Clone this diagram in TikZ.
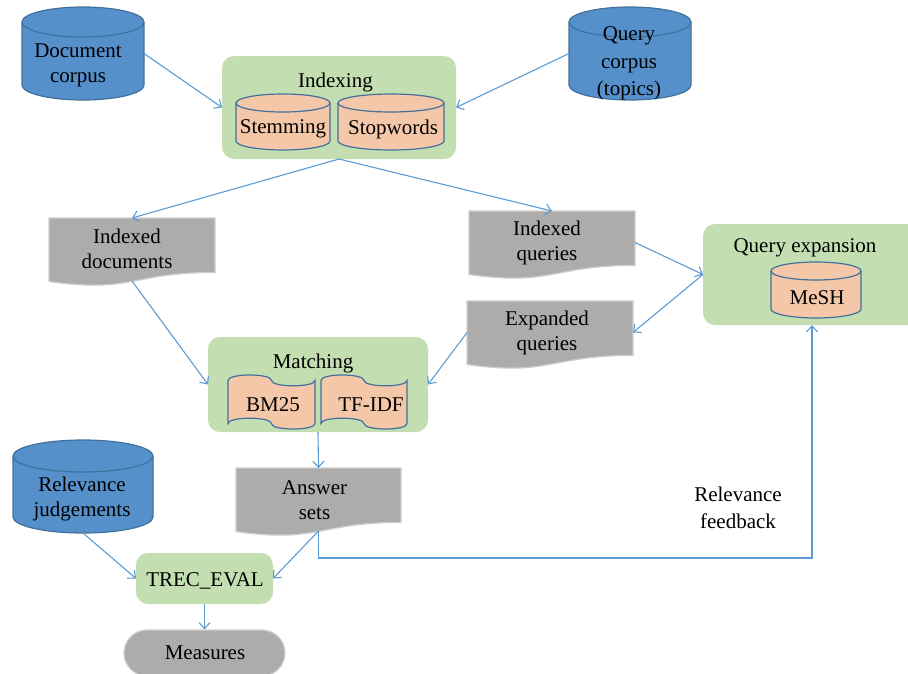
\documentclass[tikz,border=0pt]{standalone}
\usepackage{fontspec}
\setmainfont{Liberation Serif}
\usetikzlibrary{arrows.meta,calc}
\definecolor{cblue}{HTML}{5590CB}
\definecolor{cblueb}{HTML}{41719C}
\definecolor{cgreen}{HTML}{C3DEB1}
\definecolor{cpeach}{HTML}{F4C7A9}
\definecolor{cgray}{HTML}{AEABAB}
\definecolor{cgrayb}{HTML}{CFCDCD}
\definecolor{cline}{HTML}{5B9BD5}
\newcommand\mycyl[6]{%
\pgfmathsetmacro\cxc{(#1+#3)/2}%
\pgfmathsetmacro\ckx{0.5523*(#3-#1)/2}%
\pgfmathsetmacro\cky{0.5523*#5}%
\pgfmathsetmacro\cyt{#2+#5}%
\pgfmathsetmacro\cyb{#4-#5}%
\path[#6] (#1,\cyt) -- (#1,\cyb) .. controls (#1,\cyb+\cky) and (\cxc-\ckx,#4) .. (\cxc,#4) .. controls (\cxc+\ckx,#4) and (#3,\cyb+\cky) .. (#3,\cyb) -- (#3,\cyt) .. controls (#3,\cyt-\cky) and (\cxc+\ckx,#2) .. (\cxc,#2) .. controls (\cxc-\ckx,#2) and (#1,\cyt-\cky) .. cycle;
\path[#6,fill=none] (#1,\cyt) .. controls (#1,\cyt+\cky) and (\cxc-\ckx,\cyt+#5) .. (\cxc,\cyt+#5) .. controls (\cxc+\ckx,\cyt+#5) and (#3,\cyt+\cky) .. (#3,\cyt);
}
\newcommand\mydocshape[5]{%
\pgfmathsetmacro\dxm{(#1+#3)/2}%
\pgfmathsetmacro\dya{#2+0.8*#4}%
\pgfmathsetmacro\dyb{#2+1.108*#4}%
\pgfmathsetmacro\dyc{#2+0.934*#4}%
\path[#5] (#1,#2) -- (#3,#2) -- (#3,\dya) .. controls (\dxm,\dya) and (\dxm,\dyb) .. (#1,\dyc) -- cycle;
}
\newcommand\mytape[5]{%
\pgfmathsetmacro\txm{(#1+#3)/2}%
\pgfmathsetmacro\th{#4-#2}%
\pgfmathsetmacro\tya{#2+0.1*\th}%
\pgfmathsetmacro\tyau{#2+0.1*\th-0.1333*\th}%
\pgfmathsetmacro\tyad{#2+0.1*\th+0.1333*\th}%
\pgfmathsetmacro\tyb{#2+0.9*\th}%
\pgfmathsetmacro\tybu{#2+0.9*\th-0.1333*\th}%
\pgfmathsetmacro\tybd{#2+0.9*\th+0.1333*\th}%
\path[#5] (#1,\tya) .. controls (#1,\tyau) and (\txm,\tyau) .. (\txm,\tya) .. controls (\txm,\tyad) and (#3,\tyad) .. (#3,\tya) -- (#3,\tyb) .. controls (#3,\tybd) and (\txm,\tybd) .. (\txm,\tyb) .. controls (\txm,\tybu) and (#1,\tybu) .. (#1,\tyb) -- cycle;
}
\tikzset{
 frame/.style={inner sep=0pt,outer sep=0pt,rectangle},
 txt/.style={font=\fontsize{21}{25}\selectfont, align=center, inner sep=0pt},
 greenbox/.style={fill=cgreen, rounded corners=12pt, inner sep=0pt, outer sep=0pt},
 conn/.style={draw=cline, line width=1.1pt, -{Straight Barb[length=6pt,width=11pt]}},
 bluecyl/.style={fill=cblue, draw=cblueb, line width=1.2pt},
 peachshape/.style={fill=cpeach, draw=cblueb, line width=1.2pt},
 grayshape/.style={fill=cgray, draw=cgrayb, line width=1.2pt},
}
\begin{document}
\begin{tikzpicture}[x=1pt,y=-1pt]
\path[use as bounding box] (0,0) rectangle (908,673);
\clip (0,0) rectangle (908,673);
% green containers
\node[greenbox, minimum width=234pt, minimum height=103pt] (idx) at (339,107.5) {};
\node[greenbox, minimum width=220pt, minimum height=95pt] (match) at (318,384.5) {};
\node[greenbox, minimum width=217pt, minimum height=101pt] (qe) at (811.5,274.5) {};
\node[greenbox, minimum width=137pt, minimum height=51pt] (trec) at (204.5,578.5) {};
\node[grayshape, rounded corners=23pt, minimum width=161pt, minimum height=46pt] (meas) at (204.5,653) {};
% frames
\node[frame, minimum width=122pt, minimum height=93pt] (doc) at (83,53.5) {};
\node[frame, minimum width=122pt, minimum height=93pt] (qc) at (630,53.5) {};
\node[frame, minimum width=140pt, minimum height=93pt] (rj) at (83,486.5) {};
\node[frame, minimum width=94pt, minimum height=56pt] (stem) at (283,122) {};
\node[frame, minimum width=106pt, minimum height=56pt] (stop) at (391,122) {};
\node[frame, minimum width=90pt, minimum height=56pt] (mesh) at (816,290) {};
\node[frame, minimum width=166pt, minimum height=63pt] (idoc) at (132,249.5) {};
\node[frame, minimum width=166pt, minimum height=63pt] (iq) at (552,242.5) {};
\node[frame, minimum width=166pt, minimum height=63pt] (eq) at (550,332.5) {};
\node[frame, minimum width=165pt, minimum height=63pt] (ans) at (318.5,499.5) {};
\node[frame, minimum width=87pt, minimum height=54pt] (bm) at (271.5,402) {};
\node[frame, minimum width=86pt, minimum height=54pt] (tf) at (364,402) {};
% shapes
\mycyl{22}{7}{144}{100}{15}{bluecyl}
\mycyl{569}{7}{691}{100}{15}{bluecyl}
\mycyl{13}{440}{153}{533}{16}{bluecyl}
\mycyl{236}{94}{330}{150}{9}{peachshape}
\mycyl{338}{94}{444}{150}{9}{peachshape}
\mycyl{771}{262}{861}{318}{9}{peachshape}
\mydocshape{49}{218}{215}{68}{grayshape}
\mydocshape{469}{211}{635}{68}{grayshape}
\mydocshape{467}{301}{633}{68}{grayshape}
\mydocshape{236}{468}{401}{68}{grayshape}
\mytape{228}{375}{315}{429}{peachshape}
\mytape{321}{375}{407}{429}{peachshape}
% texts
\node[txt] (doct) at (78,65) {Document\\corpus};
\node[txt, font=\fontsize{21}{27.5}\selectfont] (qct) at (629,63.5) {Query\\corpus\\(topics)};
\node[txt] (idxt) at (335.5,82) {Indexing};
\node[txt] (stemt) at (283,129) {Stemming};
\node[txt] (stopt) at (393,129) {Stopwords};
\node[txt] (idoct) at (127,248.5) {Indexed\\documents};
\node[txt] (iqt) at (547,242.5) {Indexed\\queries};
\node[txt] (qet) at (805,248) {Query expansion};
\node[txt] (mesht) at (817,298) {MeSH};
\node[txt] (eqt) at (547,332.5) {Expanded\\queries};
\node[txt] (matcht) at (313,363) {Matching};
\node[txt] (bmt) at (273,405) {BM25};
\node[txt] (tft) at (371,405) {TF-IDF};
\node[txt] (anst) at (314.5,500) {Answer\\sets};
\node[txt] (rjt) at (82,499) {Relevance\\judgements};
\node[txt, font=\fontsize{21}{27}\selectfont] (fbt) at (738,507.5) {Relevance\\feedback};
\node[txt] (trect) at (205,581) {TREC\_EVAL};
\node[txt] (meast) at (205,653) {Measures};
% connectors
\draw[conn] (doc.east) -- (idx.west);
\draw[conn] (qc.west) -- (idx.east);
\draw[conn] (idx.south) -- (idoc.north);
\draw[conn] (idx.south) -- (iq.north);
\draw[conn] (iq.east) -- (qe.west);
\draw[conn] (qe.west) -- (eq.east);
\draw[conn] (idoc.south) -- (match.west);
\draw[conn] (eq.west) -- (match.east);
\draw[conn] (match.south) -- (ans.north);
\draw[conn] (rj.south) -- (trec.west);
\draw[conn] (ans.south) -- (trec.east);
\draw[conn] (trec.south) -- (meas.north);
\coordinate (fbc) at (812,558);
\draw[conn] (ans.south) |- (fbc) -- (fbc |- qe.south);
\end{tikzpicture}
\end{document}
